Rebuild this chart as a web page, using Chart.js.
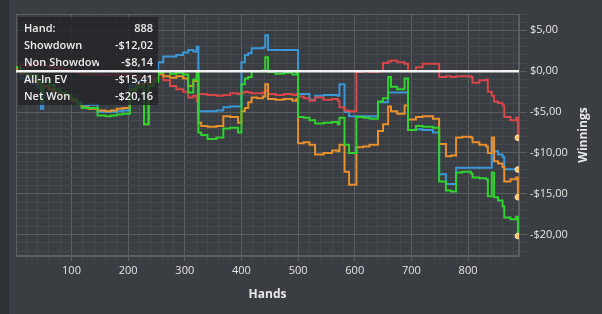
<!DOCTYPE html>
<html><head><meta charset="utf-8">
<script src="https://cdn.jsdelivr.net/npm/chart.js@4"></script>
<style>
html,body{margin:0;padding:0;background:#3a3d41;}
#wrap{position:relative;width:602px;height:314px;overflow:hidden;background:#3a3d41;}
#strip{position:absolute;left:0;top:0;width:9px;height:314px;background:#2f3235;}
canvas{position:absolute;left:0;top:0;}
</style></head>
<body><div id="wrap"><div id="strip"></div><canvas id="c" width="602" height="314"></canvas></div>
<script>
const hands = [1,10,20,30,40,46,50,60,70,80,
  90,100,110,118,130,146,160,170,180,190,
  203,215,228,236,245,253,262,274,285,297,
  306,315,321,324,329,340,356,368,380,394,
  400,406,412,418,428,438,442,447,460,475,
  490,497,500,510,520,530,545,560,570,573,
  582,590,603,615,626,641,650,659,664,675,
  688,694,708,720,738,749,761,770,779,790,
  805,808,820,832,835,842,846,853,861,864,
  875,885,888];
const showdown = [0.0,-0.8,-1.0,-1.5,-2.0,-4.6,-1.8,-2.2,-2.6,-2.8,
  -3.0,-3.4,-3.8,-4.2,-4.1,-5.0,-5.0,-5.0,-4.9,-4.8,
  -1.8,-1.2,-1.0,-1.0,-0.8,1.1,1.8,1.8,2.0,2.3,
  2.6,2.4,3.0,-4.9,-4.9,-4.9,-4.8,-4.4,-4.3,-4.3,
  1.1,2.0,2.2,2.8,2.8,2.9,4.4,2.6,2.6,2.6,
  2.6,2.6,-2.8,-2.8,-3.5,-3.0,-2.9,-2.9,-3.0,-1.6,
  -5.0,-5.5,-5.5,-5.5,-5.5,-3.8,-3.8,-2.6,-2.6,-2.6,
  -2.6,-7.2,-7.1,-7.2,-7.5,-12.6,-13.8,-13.8,-11.8,-11.8,
  -11.8,-11.8,-11.8,-11.8,-11.8,-8.7,-9.8,-10.2,-10.5,-12.0,
  -12.0,-12.0,-12.02];
const nonShowdown = [0.5,0.8,0.6,1.0,0.8,0.9,0.7,0.5,0.4,0.2,
  0.1,0.0,-0.2,-0.3,-0.4,-0.4,-0.5,-0.4,-0.4,-0.4,
  -0.5,-0.7,-0.6,-0.8,-0.5,-0.4,-1.1,-1.8,-2.2,-2.5,
  -3.2,-3.0,-3.6,-2.8,-2.8,-2.9,-3.0,-2.9,-2.7,-2.8,
  -2.6,-2.5,-2.6,-2.7,-2.7,-2.6,-2.4,-2.8,-2.9,-2.8,
  -2.9,-2.8,-3.1,-3.3,-3.6,-3.2,-3.5,-3.4,-3.6,-4.4,
  -4.8,-4.9,-0.1,0.0,-0.1,0.0,1.0,1.2,1.3,1.1,
  0.9,0.0,0.5,0.9,0.9,-0.7,-0.6,-0.7,-0.6,-0.6,
  -0.7,-1.4,-1.1,-1.0,-2.5,-3.0,-3.7,-3.9,-4.2,-5.6,
  -6.0,-5.7,-8.14];
const allInEV = [0.3,-0.3,-0.6,-1.2,-1.5,-2.0,-1.8,-2.2,-2.6,-2.9,
  -3.1,-3.6,-4.0,-4.4,-4.6,-4.8,-4.9,-4.8,-4.6,-4.5,
  -2.2,-1.6,-6.5,-1.4,-1.0,-0.3,-0.6,-0.8,-0.6,-0.9,
  -1.8,-1.2,-0.6,-6.3,-6.7,-6.8,-6.7,-5.5,-5.6,-6.3,
  -4.9,-4.5,-3.8,-3.2,-3.3,-3.1,-1.6,-3.4,-3.5,-3.4,
  -3.6,-3.4,-8.8,-8.7,-9.0,-10.2,-10.0,-9.7,-9.8,-9.0,
  -12.3,-13.9,-9.3,-9.2,-9.0,-7.3,-6.5,-4.3,-4.9,-5.2,
  -4.2,-5.9,-5.6,-5.5,-5.8,-8.9,-10.4,-10.3,-8.1,-8.0,
  -8.1,-8.7,-9.0,-9.2,-10.0,-8.1,-11.0,-11.3,-11.7,-13.5,
  -13.2,-13.0,-15.41];
const netWon = [0.5,0.0,-0.4,-0.5,-1.2,-3.7,-1.1,-1.7,-2.2,-2.6,
  -2.9,-3.4,-4.0,-4.5,-4.5,-5.4,-5.5,-5.4,-5.3,-5.2,
  -2.3,-1.9,-6.5,-1.8,-1.3,-0.2,0.0,-0.3,-0.2,-0.4,
  -2.6,-1.0,0.0,-7.5,-7.8,-8.3,-8.1,-7.0,-6.9,-7.5,
  -1.6,-0.9,-0.7,0.0,0.0,0.1,1.7,-0.1,-0.3,-0.2,
  -0.4,-0.2,-5.6,-5.7,-6.0,-6.4,-6.3,-6.2,-6.5,-5.7,
  -9.0,-10.0,-5.6,-5.7,-5.8,-3.7,-3.3,-0.7,-1.9,-2.2,
  -0.9,-7.2,-6.7,-6.8,-6.9,-13.5,-14.6,-14.7,-12.4,-12.3,
  -12.5,-13.0,-13.1,-13.2,-15.3,-12.4,-15.4,-15.8,-16.5,-17.9,
  -18.1,-17.8,-20.16];
const seriesNames = ['Showdown','Non Showdown','All-In EV','Net Won'];
const tooltipTitle = 'Hand:';
const xTitle = 'Hands';
const yTitle = 'Winnings';

function fmtMoney(v){
  const s = Math.abs(v).toFixed(2).replace('.', ',');
  return (v < 0 ? '-' : '') + '$' + s;
}
const last = hands.length - 1;
const MINOR = '#45484c', MAJOR = '#5b5e62';
const FONT = "'Open Sans', 'Noto Sans', sans-serif";

function mk(label, arr, color, order){
  return {
    label, order,
    data: hands.map((h,i)=>({x:h, y:arr[i]})),
    borderColor: color, borderWidth: 2, stepped: 'before', tension: 0,
    pointRadius: c => c.dataIndex === last ? 2.8 : 0,
    pointBackgroundColor: '#f7c46c', pointBorderColor: '#fde6b8', pointBorderWidth: 1,
    fill: false
  };
}

const overlay = {
  id: 'overlay',
  beforeDatasetsDraw(chart){
    const {ctx, chartArea:a} = chart;
    ctx.save();
    ctx.strokeStyle = MAJOR; ctx.lineWidth = 1;
    ctx.strokeRect(a.left + 0.5, a.top + 0.5, a.right - a.left - 1, a.bottom - a.top - 1);
    ctx.restore();
  },
  afterDatasetsDraw(chart){
    const {ctx, chartArea:a, scales} = chart;
    ctx.save();
    const bx = 18, by = 17, bw = 140, bh = 88;
    ctx.fillStyle = 'rgba(33,35,38,0.78)';
    ctx.fillRect(bx, by, bw, bh);
    const rows = [[tooltipTitle, String(hands[last])],
      [seriesNames[0], fmtMoney(showdown[last])],
      [seriesNames[1], fmtMoney(nonShowdown[last])],
      [seriesNames[2], fmtMoney(allInEV[last])],
      [seriesNames[3], fmtMoney(netWon[last])]];
    ctx.font = '600 11px ' + FONT;
    ctx.fillStyle = '#ececec';
    ctx.textBaseline = 'middle';
    rows.forEach((r, i) => {
      const y = by + 12 + i * 17;
      ctx.save();
      ctx.beginPath(); ctx.rect(bx, by, 81, bh); ctx.clip();
      ctx.textAlign = 'left';
      ctx.fillText(r[0], bx + 6, y);
      ctx.restore();
      ctx.textAlign = 'right';
      ctx.fillText(r[1], bx + bw - 5, y);
    });
    const y0 = scales.y.getPixelForValue(0);
    ctx.strokeStyle = '#f2f2f2'; ctx.lineWidth = 2.5;
    ctx.beginPath(); ctx.moveTo(a.left, y0); ctx.lineTo(a.right, y0); ctx.stroke();
    ctx.restore();
  },
  afterDraw(chart){
    const {ctx, chartArea:a} = chart;
    ctx.save();
    ctx.font = 'bold 12px ' + FONT;
    ctx.fillStyle = '#e8e8e8';
    ctx.textAlign = 'center'; ctx.textBaseline = 'middle';
    ctx.translate(584, (a.top + a.bottom) / 2);
    ctx.rotate(-Math.PI / 2);
    ctx.fillText(yTitle, 0, 0);
    ctx.restore();
  }
};

new Chart(document.getElementById('c'), {
  type: 'line',
  data: { datasets: [
    mk(seriesNames[0], showdown, '#3a98d8', 3),
    mk(seriesNames[1], nonShowdown, '#d9464a', 2),
    mk(seriesNames[2], allInEV, '#e8902c', 1),
    mk(seriesNames[3], netWon, '#2fd22f', 0)
  ]},
  options: {
    responsive: false, animation: false, devicePixelRatio: 1,
    layout: { padding: { left: 16, top: 14, right: 0, bottom: 0 } },
    plugins: { legend: { display: false }, tooltip: { enabled: false } },
    scales: {
      x: {
        type: 'linear', position: 'bottom', min: 2, max: 890,
        afterFit(s){ s.height = 58; },
        ticks: { stepSize: 20, includeBounds: false, autoSkip: false, maxRotation: 0, padding: 3,
          color: '#e4e4e4', font: { family: FONT, size: 11 },
          callback: v => (v % 100 === 0 ? String(v) : '') },
        grid: { color: c => (c.tick && c.tick.value % 100 === 0 ? MAJOR : MINOR),
          tickColor: c => (c.tick && c.tick.value % 100 === 0 ? MAJOR : MINOR), tickLength: 5 },
        border: { color: MAJOR },
        title: { display: true, text: xTitle, color: '#e8e8e8',
          font: { family: FONT, size: 12, weight: 'bold' }, padding: { top: 0, bottom: 12 } }
      },
      y: {
        type: 'linear', position: 'right', min: -22.6, max: 7,
        afterFit(s){ s.width = 83; },
        ticks: { stepSize: 1, includeBounds: false, autoSkip: false, padding: 3,
          color: '#e4e4e4', font: { family: FONT, size: 11 },
          callback: v => (v % 5 === 0 ? fmtMoney(v) : '') },
        grid: { color: c => (c.tick && c.tick.value % 5 === 0 ? MAJOR : MINOR),
          tickColor: c => (c.tick && c.tick.value % 5 === 0 ? MAJOR : MINOR), tickLength: 8 },
        border: { color: MAJOR }
      }
    }
  },
  plugins: [overlay]
});
</script></body></html>
